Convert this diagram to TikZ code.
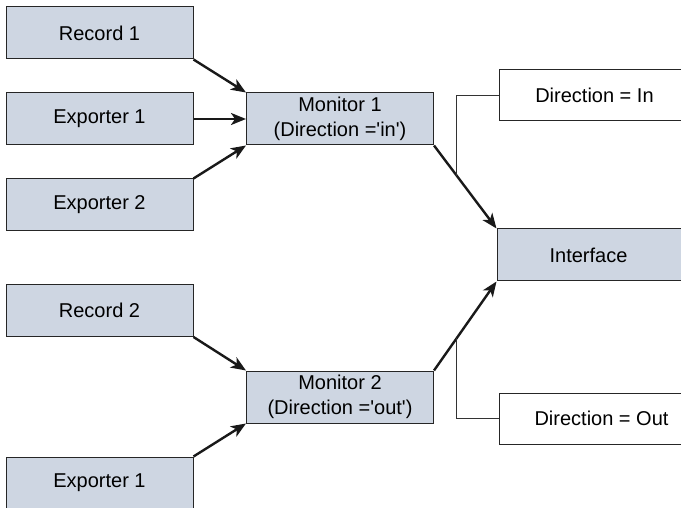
\documentclass[tikz,border=0pt]{standalone}
\usepackage{fontspec}
\setmainfont{Liberation Sans}
\usepackage{xcolor}
\usetikzlibrary{arrows.meta,positioning,calc}
\definecolor{boxfill}{RGB}{206,214,226}

\begin{document}
\begin{tikzpicture}[
  x=1pt,y=-1pt,
  >={Stealth[length=15pt,width=12pt,inset=4pt]},
  every node/.style={font=\fontsize{20}{24.5}\selectfont},
  srcbox/.style={draw=black!85,line width=1pt,fill=boxfill,
                 minimum width=187pt,minimum height=52pt,inner sep=0pt},
  monbox/.style={srcbox,align=center},
  dirbox/.style={draw=black!85,line width=1pt,fill=white,
                 minimum width=200pt,minimum height=51pt,inner sep=0pt},
  flow/.style={->,line width=2.4pt,black!90},
  tag/.style={line width=1pt,black!80}
]
\useasboundingbox (0,0) rectangle (681,508);

% sources on the left
\node[srcbox] (rec1) at (99.5,33)  {Record 1};
\node[srcbox] (exp1) at (99.5,119) {Exporter 1};
\node[srcbox] (exp2) at (99.5,205) {Exporter 2};
\node[srcbox] (rec2) at (99.5,310.5) {Record 2};
\node[srcbox] (exp3) at (99.5,483) {Exporter 1};

% monitors
\node[monbox] (mon1) at (340,119) {Monitor 1\\(Direction =\textquotesingle in\textquotesingle)};
\node[monbox] (mon2) at (340,397) {Monitor 2\\(Direction =\textquotesingle out\textquotesingle)};

% interface and direction labels (cut off at the right edge)
\node[srcbox,minimum width=200pt] (intf)   at (597,255)   {\hspace*{-17pt}Interface};
\node[dirbox]                     (dirin)  at (599,95.5)  {\hspace*{-9pt}Direction = In};
\node[dirbox]                     (dirout) at (599,418.5) {\hspace*{5pt}Direction = Out};

\draw[flow] (rec1.south east) -- (mon1.north west);
\draw[flow] (exp1.east)       -- (mon1.west);
\draw[flow] (exp2.north east) -- (mon1.south west);
\draw[flow] (rec2.south east) -- (mon2.north west);
\draw[flow] (exp3.north east) -- (mon2.south west);
\draw[flow] (mon1.south east) -- (intf.north west);
\draw[flow] (mon2.north east) -- (intf.south west);

% tags joining the arrows into the interface
\coordinate (jin)  at ($(mon1.south east)!0.365!(intf.north west)$);
\coordinate (jout) at ($(mon2.north east)!0.365!(intf.south west)$);
\draw[tag] (dirin.west)  -| (jin);
\draw[tag] (dirout.west) -| (jout);
\end{tikzpicture}
\end{document}
